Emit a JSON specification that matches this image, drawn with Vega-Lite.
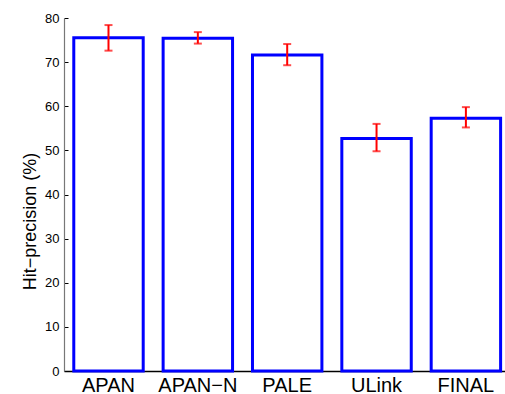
{
  "$schema": "https://vega.github.io/schema/vega-lite/v6.json",
  "autosize": "none",
  "width": 441,
  "height": 353,
  "padding": {"left": 64, "top": 18, "right": 0, "bottom": 23},
  "background": "white",
  "config": {"view": {"stroke": null}, "font": "Liberation Sans"},
  "data": {"values": [
    {"method": "APAN", "value": 75.5, "lo": 72.6, "hi": 78.4},
    {"method": "APAN−N", "value": 75.4, "lo": 74.2, "hi": 76.8},
    {"method": "PALE", "value": 71.6, "lo": 69.3, "hi": 74.1},
    {"method": "ULink", "value": 52.7, "lo": 49.8, "hi": 56.0},
    {"method": "FINAL", "value": 57.3, "lo": 55.2, "hi": 59.8}
  ]},
  "encoding": {
    "x": {"field": "method", "type": "nominal", "sort": null,
      "scale": {"paddingInner": 0.223, "paddingOuter": 0.0793, "align": 0.69},
      "axis": {"title": null, "labelAngle": 0, "ticks": false, "labelFontSize": 20, "labelColor": "#000", "labelPadding": 4, "domainColor": "#000", "domainWidth": 1.5}}
  },
  "layer": [
    {
      "mark": {"type": "bar", "fill": "white", "stroke": "#0000ff", "strokeWidth": 3},
      "encoding": {
        "y": {"field": "value", "type": "quantitative",
          "scale": {"domain": [0, 80], "nice": false},
          "axis": {"title": "Hit−precision (%)", "values": [0,10,20,30,40,50,60,70,80], "grid": false,
            "tickSize": -4, "tickColor": "#000", "labelPadding": 9, "labelFontSize": 13, "labelColor": "#000",
            "domainColor": "#777", "domainWidth": 1.2,
            "titleFontSize": 18, "titleFontWeight": "normal", "titleColor": "#000",
            "titleX": -29, "titleY": 203, "titleBaseline": "alphabetic"}}
      }
    },
    {
      "mark": {"type": "rule", "color": "#ff0000", "strokeWidth": 2},
      "encoding": {"y": {"field": "lo", "type": "quantitative"}, "y2": {"field": "hi"}}
    },
    {
      "mark": {"type": "tick", "color": "#ff0000", "thickness": 2, "size": 8},
      "encoding": {"y": {"field": "lo", "type": "quantitative"}}
    },
    {
      "mark": {"type": "tick", "color": "#ff0000", "thickness": 2, "size": 8},
      "encoding": {"y": {"field": "hi", "type": "quantitative"}}
    }
  ]
}
